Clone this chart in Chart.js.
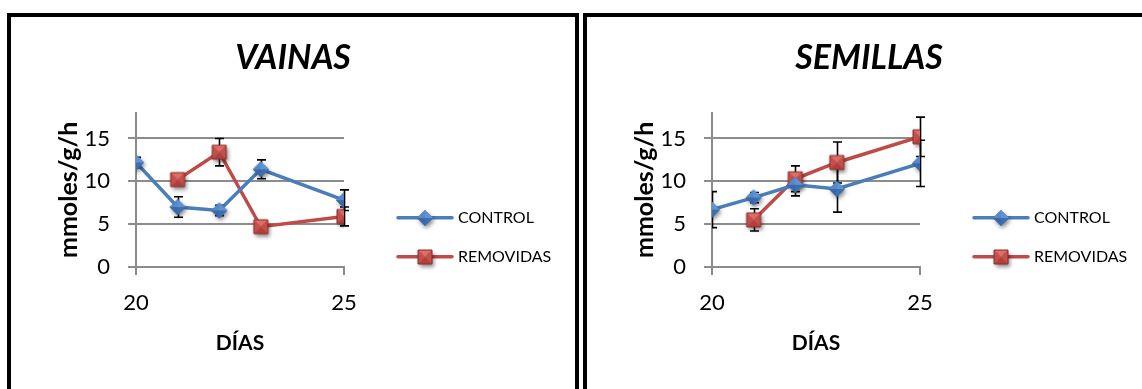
<!DOCTYPE html>
<html lang="es">
<head>
<meta charset="utf-8">
<title>Vainas y semillas</title>
<script src="https://cdn.jsdelivr.net/npm/chart.js@4.4.1/dist/chart.umd.min.js"></script>
<style>
  html, body { margin: 0; padding: 0; background: #fff; overflow: hidden; }
  body { width: 1142px; height: 389px; position: relative; }
  .panel { position: absolute; top: 13px; width: 572px; height: 400px; box-sizing: border-box; border: 4px solid #000; border-bottom: none; background: #fff; }
  #panelVainas { left: 7px; }
  #panelSemillas { left: 583px; }
  .panel canvas { position: absolute; left: 0; top: 0; }
</style>
</head>
<body>
<div class="panel" id="panelVainas"><canvas id="graficoVainas" width="564" height="372"></canvas></div>
<div class="panel" id="panelSemillas"><canvas id="graficoSemillas" width="564" height="372"></canvas></div>
<script>
// dias de muestreo
var diasControl = [20, 21, 22, 23, 25];
var diasRemovidas = [21, 22, 23, 25];

// VAINAS (mmoles/g/h) y su error
var vainasControl = [12.2, 7.0, 6.6, 11.4, 7.8];
var vainasControlError = [0.6, 1.2, 0.6, 1.1, 1.2];
var vainasRemovidas = [10.2, 13.4, 4.7, 5.9];
var vainasRemovidasError = [0.3, 1.6, 0.3, 1.1];

// SEMILLAS (mmoles/g/h) y su error
var semillasControl = [6.7, 8.1, 9.6, 9.1, 12.1];
var semillasControlError = [2.1, 0.6, 1.3, 2.7, 2.7];
var semillasRemovidas = [5.5, 10.3, 12.2, 15.2];
var semillasRemovidasError = [1.3, 1.5, 2.4, 2.3];

// ejes
var ejeX = { min: 20, max: 25, paso: 5 };
var ejeY = { min: 0, max: 18, paso: 5 };

Chart.defaults.font.family = 'Lato';
Chart.defaults.color = '#000';

// marcador con sombreado tipo piramide (rombo azul / cuadrado rojo)
function marcador(forma, claro, medio, oscuro, otro, borde) {
  var c = document.createElement('canvas');
  c.width = 26; c.height = 26;
  var g = c.getContext('2d');
  var m = 13, r = forma === 'rombo' ? 8 : 7;
  var esquinas = forma === 'rombo'
    ? [[m, m - r], [m + r, m], [m, m + r], [m - r, m]]
    : [[m - r, m - r], [m + r, m - r], [m + r, m + r], [m - r, m + r]];
  function contorno() {
    g.beginPath();
    esquinas.forEach(function (p, i) { i ? g.lineTo(p[0], p[1]) : g.moveTo(p[0], p[1]); });
    g.closePath();
  }
  g.save();
  g.shadowColor = 'rgba(0,0,0,0.45)';
  g.shadowBlur = 4; g.shadowOffsetX = 1.5; g.shadowOffsetY = 2.5;
  contorno(); g.fillStyle = medio; g.fill();
  g.restore();
  var tonos = [claro, medio, oscuro, otro];
  for (var i = 0; i < 4; i++) {
    var a = esquinas[i], b = esquinas[(i + 1) % 4];
    g.beginPath(); g.moveTo(m, m); g.lineTo(a[0], a[1]); g.lineTo(b[0], b[1]); g.closePath();
    g.fillStyle = tonos[i]; g.fill();
  }
  if (borde) { contorno(); g.strokeStyle = borde; g.lineWidth = 1; g.stroke(); }
  return c;
}

var rombo = marcador('rombo', '#5f93d3', '#3d6fb0', '#3a68a6', '#5589cb', null);
var cuadro = marcador('cuadro', '#dc6e69', '#c4504c', '#b0403c', '#c4504c', '#8a2a27');

// barras de error, por debajo de las lineas
var barrasError = {
  id: 'barrasError',
  beforeDatasetsDraw: function (chart) {
    var ctx = chart.ctx, area = chart.chartArea;
    var x = chart.scales.x, y = chart.scales.y;
    ctx.save();
    ctx.beginPath();
    ctx.rect(area.left, 0, chart.width - area.left, chart.height);
    ctx.clip();
    ctx.strokeStyle = '#000';
    ctx.lineWidth = 1.6;
    chart.data.datasets.forEach(function (ds) {
      ds.data.forEach(function (p, i) {
        var e = ds.errores[i];
        var px = Math.round(x.getPixelForValue(p.x)) + 0.5;
        var arriba = y.getPixelForValue(p.y + e);
        var abajo = y.getPixelForValue(p.y - e);
        ctx.beginPath();
        ctx.moveTo(px, arriba); ctx.lineTo(px, abajo);
        ctx.moveTo(px - 4.5, arriba); ctx.lineTo(px + 4.5, arriba);
        ctx.moveTo(px - 4.5, abajo); ctx.lineTo(px + 4.5, abajo);
        ctx.stroke();
      });
    });
    ctx.restore();
  }
};

// leyenda a la derecha (caja propia del layout): linea con marcador y texto
var leyendaLateral = {
  id: 'leyendaLateral',
  beforeInit: function (chart) {
    var caja = {
      position: 'right',
      fullSize: false,
      options: {},
      isHorizontal: function () { return false; },
      getPadding: function () { return { top: 0, left: 0, right: 0, bottom: 0 }; },
      update: function (maxWidth, maxHeight) {
        this.width = chart.options.plugins.leyendaLateral.ancho;
        this.height = maxHeight;
      },
      draw: function () {
        var opts = chart.options.plugins.leyendaLateral;
        var ctx = chart.ctx, area = chart.chartArea;
        chart.data.datasets.forEach(function (ds, i) {
          var yy = area.top + opts.primeraFila + i * opts.separacion;
          var x0 = caja.left + opts.margen, x1 = x0 + opts.largo;
          ctx.save();
          ctx.strokeStyle = ds.borderColor;
          ctx.lineWidth = ds.borderWidth;
          ctx.lineCap = 'round';
          ctx.beginPath(); ctx.moveTo(x0, yy); ctx.lineTo(x1, yy); ctx.stroke();
          var img = ds.pointStyle;
          ctx.drawImage(img, Math.round((x0 + x1) / 2 - img.width / 2), Math.round(yy - img.height / 2));
          ctx.fillStyle = '#000';
          ctx.font = opts.fuente;
          ctx.textBaseline = 'middle';
          ctx.fillText(ds.label, x1 + 6, yy);
          ctx.restore();
        });
      }
    };
    Chart.layouts.addBox(chart, caja);
  }
};

function puntos(dias, valores) {
  return dias.map(function (d, i) { return { x: d, y: valores[i] }; });
}

function crearGrafico(id, titulo, control, controlError, removidas, removidasError) {
  var ctx = document.getElementById(id).getContext('2d');
  return new Chart(ctx, {
    type: 'line',
    data: {
      datasets: [{
        label: 'CONTROL',
        data: puntos(diasControl, control),
        errores: controlError,
        borderColor: '#4a7ebb',
        borderWidth: 3.5,
        pointStyle: rombo,
        pointRadius: 7,
        tension: 0
      }, {
        label: 'REMOVIDAS',
        data: puntos(diasRemovidas, removidas),
        errores: removidasError,
        borderColor: '#be4b48',
        borderWidth: 3.5,
        pointStyle: cuadro,
        pointRadius: 7,
        tension: 0
      }]
    },
    options: {
      responsive: false,
      animation: false,
      devicePixelRatio: 1,
      layout: { padding: { left: 0, right: 0, top: 0, bottom: 30 } },
      scales: {
        x: {
          type: 'linear',
          min: ejeX.min,
          max: ejeX.max,
          ticks: { stepSize: ejeX.paso, font: { size: 22 }, padding: 15, maxRotation: 0 },
          grid: { drawOnChartArea: false, drawTicks: true, tickLength: 8, color: '#8c8c8c', lineWidth: 2 },
          border: { color: '#8c8c8c', width: 2 },
          title: { display: true, text: 'DÍAS', font: { size: 21, weight: 'bold' }, padding: { top: 16, bottom: 3 } },
          afterFit: function (s) { s.height = 92; }
        },
        y: {
          min: ejeY.min,
          max: ejeY.max,
          ticks: { stepSize: ejeY.paso, includeBounds: false, font: { size: 22 }, padding: 18 },
          grid: { color: '#8c8c8c', lineWidth: 2, tickLength: 8 },
          border: { color: '#8c8c8c', width: 2 },
          title: { display: true, text: 'mmoles/g/h', font: { size: 25, weight: 'bold' }, padding: { top: 43, bottom: 0 } },
          afterFit: function (s) { s.width = 125; }
        }
      },
      plugins: {
        legend: { display: false },
        tooltip: { enabled: false },
        title: {
          display: true,
          text: titulo,
          font: { size: 34, weight: 'bold', style: 'italic' },
          padding: { top: 21, bottom: 34 }
        },
        leyendaLateral: { ancho: 231, margen: 54, largo: 54, primeraFila: 105, separacion: 39, fuente: '16px Lato' }
      }
    },
    plugins: [barrasError, leyendaLateral]
  });
}

crearGrafico('graficoVainas', 'VAINAS', vainasControl, vainasControlError, vainasRemovidas, vainasRemovidasError);
crearGrafico('graficoSemillas', 'SEMILLAS', semillasControl, semillasControlError, semillasRemovidas, semillasRemovidasError);
</script>
</body>
</html>
